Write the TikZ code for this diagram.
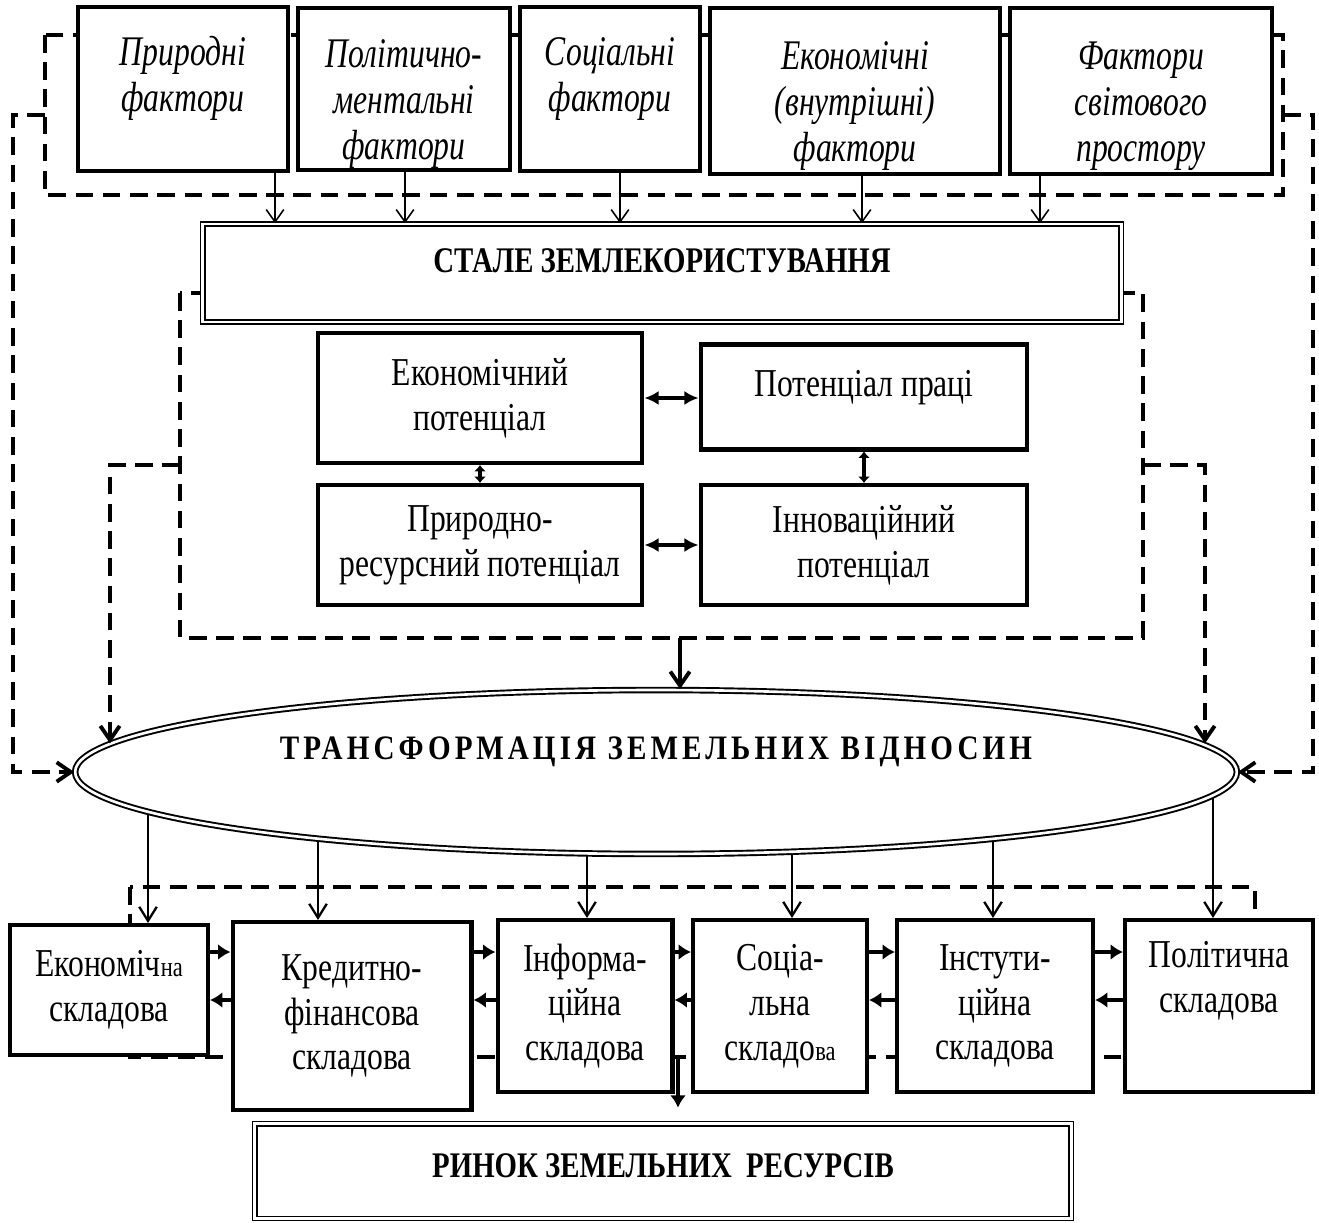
\documentclass[tikz,border=0pt]{standalone}
\usepackage{fontspec}
\setmainfont{Liberation Serif}[FakeStretch=0.8]
\newfontfamily\factorfont{Liberation Serif}[FakeStretch=0.75]
\newfontfamily\spacedfont{Liberation Serif}[FakeStretch=0.85,LetterSpace=12]
\usetikzlibrary{shapes.geometric,arrows.meta,backgrounds}

\begin{document}
\begin{tikzpicture}[x=0.02cm,y=-0.02cm,
    box/.style={draw,line width=2.3pt,fill=white,align=center,inner sep=0pt,
      font=\fontsize{22.5}{25.5}\selectfont},
    factor/.style={box,font=\factorfont\itshape\fontsize{24}{26}\selectfont},
    dbox/.style={draw,double,line width=0.9pt,double distance=1.6pt,fill=white,
      inner sep=0pt,font=\bfseries\fontsize{20.5}{22}\selectfont},
    dashline/.style={line width=2.2pt,dash pattern=on 10pt off 5.5pt},
    flow/.style={line width=0.9pt,-{Straight Barb[length=7pt,width=10pt]}},
    down/.style={line width=1.3pt,-{Straight Barb[length=8pt,width=10pt]}},
    dflow/.style={-{Straight Barb[length=8pt,width=11pt]}},
    both/.style={line width=2.2pt,{Latex[length=8pt,width=8pt]}-{Latex[length=8pt,width=8pt]}},
    short both/.style={line width=2pt,{Latex[length=3.6pt,width=7pt]}-{Latex[length=3.6pt,width=7pt]}},
    link/.style={line width=2.6pt,-{Latex[length=7pt,width=9pt]}}]
  \useasboundingbox (0,0) rectangle (1319,1223);

  \node[factor,minimum width=4.2cm,minimum height=3.24cm] (f1) at (183,89) {\rule{0pt}{33pt}Природні\\фактори\\\strut};
  \node[factor,minimum width=4.24cm,minimum height=3.24cm] (f2) at (404,89) {\rule{0pt}{33pt}Політично-\\ментальні\\фактори};
  \node[factor,minimum width=3.6cm,minimum height=3.24cm] (f3) at (610,89) {\rule{0pt}{33pt}Соціальні\\фактори\\\strut};
  \node[factor,minimum width=5.8cm,minimum height=3.32cm] (f4) at (855,91) {\rule{0pt}{33pt}Економічні\\(внутрішні)\\фактори};
  \node[factor,minimum width=5.24cm,minimum height=3.32cm] (f5) at (1141,91) {\rule{0pt}{33pt}Фактори\\світового\\простору};

  \node[dbox,minimum width=18.38cm,minimum height=1.96cm,text height=0.35cm,text depth=0.35cm] (stale) at (662,273) {СТАЛЕ ЗЕМЛЕКОРИСТУВАННЯ};

  \node[box,minimum width=6.5cm,minimum height=2.6cm] (econ) at (480,398) {Економічний\\потенціал};
  \node[box,minimum width=6.54cm,minimum height=2.1cm,text height=0.35cm,text depth=0.35cm] (labour) at (864,397) {Потенціал праці};
  \node[box,minimum width=6.5cm,minimum height=2.4cm] (nature) at (480,545) {Природно-\\ресурсний потенціал};
  \node[box,minimum width=6.54cm,minimum height=2.4cm] (innov) at (864,545) {Інноваційний\\потенціал};

  \node[ellipse,draw,double,line width=1.1pt,double distance=1.5pt,fill=white,inner sep=0pt,
    minimum width=23.24cm,minimum height=3.28cm,text height=0.35cm,text depth=0.87cm] (trans) at (656,772)
    {\spacedfont\bfseries\fontsize{19.5}{22}\selectfont ТРАНСФОРМАЦІЯ ЗЕМЕЛЬНИХ ВІДНОСИН};

  \node[box,minimum width=3.96cm,minimum height=2.6cm] (b1) at (109,990) {Економіч{\fontsize{16}{18}\selectfont на}\\складова};
  \node[box,minimum width=4.78cm,minimum height=3.76cm] (b2) at (352,1016) {Кредитно-\\фінансова\\складова};
  \node[box,minimum width=3.5cm,minimum height=3.44cm] (b3) at (585,1006) {Інформа-\\ційна\\складова};
  \node[box,minimum width=3.48cm,minimum height=3.44cm] (b4) at (780,1006) {Соціа-\\льна\\складо{\fontsize{16}{18}\selectfont ва}};
  \node[box,minimum width=3.92cm,minimum height=3.44cm] (b5) at (995,1006) {Інстути-\\ційна\\складова};
  \node[box,minimum width=3.76cm,minimum height=3.44cm] (b6) at (1219,1006) {Політична\\складова\\\strut};

  \node[dbox,minimum width=16.34cm,minimum height=1.9cm,text height=0.47cm,text depth=0.23cm] (market) at (663,1171) {РИНОК ЗЕМЕЛЬНИХ\ \ РЕСУРСІВ};

  \begin{pgfonlayer}{background}
    \draw[dashline] (45,35) rectangle (1283,195);
    \draw[dashline] (180,293) rectangle (1143,638);
    \draw[dashline] (130,887) rectangle (1255,1057);
    \foreach \x/\q in {148/b1,318/b2,587/b3,792/b4,993/b5,1213/b6}
      \draw[down] (\x,0 |- trans.center) -- (\x,0 |- \q.north);
  \end{pgfonlayer}

  \foreach \x/\q in {275/f1,405/f2,620/f3,862/f4,1040/f5}
    \draw[flow] (\x,0 |- \q.south) -- (\x,0 |- stale.north);

  \draw[both] (econ.east) -- (labour.west |- econ.east);
  \draw[both] (nature.east) -- (innov.west |- nature.east);
  \draw[short both] (econ.south) -- (nature.north);
  \draw[short both] (labour.south) -- (labour.south |- innov.north);

  \draw[line width=2.2pt,dflow] (680,638) -- (680,0 |- trans.north);
  \draw[dashline,dflow] (45,115) -- (13,115) -- (13,772) -- (trans.west);
  \draw[dashline,dflow] (1283,115) -- (1313,115) -- (1313,772) -- (trans.east);
  \draw[dashline,dflow] (180,465) -- (110,465) -- (110,465 |- trans.177);
  \draw[dashline,dflow] (1143,465) -- (1205,465) -- (1205,465 |- trans.3);

  \foreach \p/\q in {b1/b2,b2/b3,b3/b4,b4/b5,b5/b6}
  {
    \draw[link] (\p.east |- 0,952) -- (\q.west |- 0,952);
    \draw[link] (\q.west |- 0,1000) -- (\p.east |- 0,1000);
  }
  \draw[link,shorten >=0.3cm] (678,1057) -- (678,0 |- market.north);
\end{tikzpicture}
\end{document}
